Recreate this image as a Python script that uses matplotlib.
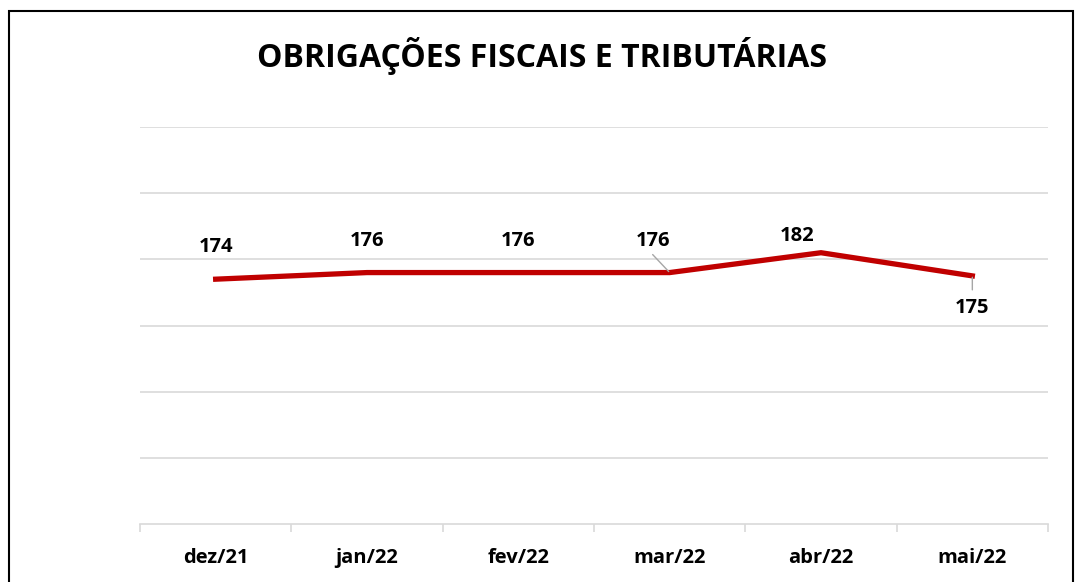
import matplotlib
matplotlib.use("Agg")
import matplotlib.pyplot as plt
from matplotlib.patches import Rectangle

months = ["dez/21", "jan/22", "fev/22", "mar/22", "abr/22", "mai/22"]
values = [174, 176, 176, 176, 182, 175]
# label offsets in pixels (dx, dy) relative to each point
label_offsets = [(0, 32), (0, 32), (0, 32), (-17, 32), (-24, 17), (0, -32)]
leader = [False, False, False, True, False, True]

FONT = "Open Sans"
RED = "#C00000"

fig = plt.figure(figsize=(10.77, 5.82), dpi=100)
fig.patch.set_facecolor("white")
ax = fig.add_axes([140 / 1077, 1 - 524 / 582, 908 / 1077, (524 - 127) / 582])

x = list(range(len(months)))
ax.plot(x, values, color=RED, lw=3.8, solid_joinstyle="miter", zorder=3)

ax.set_xlim(-0.5, len(months) - 0.5)
ax.set_ylim(100, 220)
ax.set_yticks(range(120, 221, 20))
ax.yaxis.grid(True, color="#d9d9d9", lw=1.2)
ax.set_axisbelow(True)
ax.tick_params(axis="y", left=False, labelleft=False)

ax.set_xticks(x)
ax.set_xticklabels(months, fontfamily=FONT, fontweight="bold", fontsize=14.5)
ax.set_xticks([i - 0.5 for i in range(len(months) + 1)], minor=True)
ax.tick_params(axis="x", which="major", length=0, pad=17)
ax.tick_params(axis="x", which="minor", length=6, color="#d9d9d9", width=1.2)

for s in ["top", "right", "left"]:
    ax.spines[s].set_visible(False)
ax.spines["bottom"].set_color("#d9d9d9")
ax.spines["bottom"].set_linewidth(1.2)

for i, v in enumerate(values):
    dx, dy = label_offsets[i]
    ax.annotate(str(v), xy=(i, v), xytext=(dx * 0.72, dy * 0.72),
                textcoords="offset points", ha="center", va="center",
                fontfamily=FONT, fontweight="bold", fontsize=14.5)
    if leader[i]:
        if dy > 0:
            ax.annotate("", xy=(i, v), xytext=(dx * 0.72, (dy - 14) * 0.72),
                        textcoords="offset points",
                        arrowprops=dict(arrowstyle="-", color="#a6a6a6", lw=1,
                                        shrinkA=0, shrinkB=1))
        else:
            ax.annotate("", xy=(i, v), xytext=(dx * 0.72, (dy + 18) * 0.72),
                        textcoords="offset points",
                        arrowprops=dict(arrowstyle="-", color="#a6a6a6", lw=1,
                                        shrinkA=0, shrinkB=1))

fig.text(542 / 1077, 1 - 56 / 582, "OBRIGAÇÕES FISCAIS E TRIBUTÁRIAS",
         ha="center", va="center", fontfamily=FONT, fontweight="bold", fontsize=23)

# outer chart frame (bottom edge cut off in the reference)
fig.patches.append(Rectangle((9 / 1077, -0.05), (1073 - 9) / 1077, 1.05 - 11 / 582,
                             transform=fig.transFigure, fill=False,
                             edgecolor="black", lw=1.5, clip_on=False))

fig.savefig("out.png", dpi=100)
